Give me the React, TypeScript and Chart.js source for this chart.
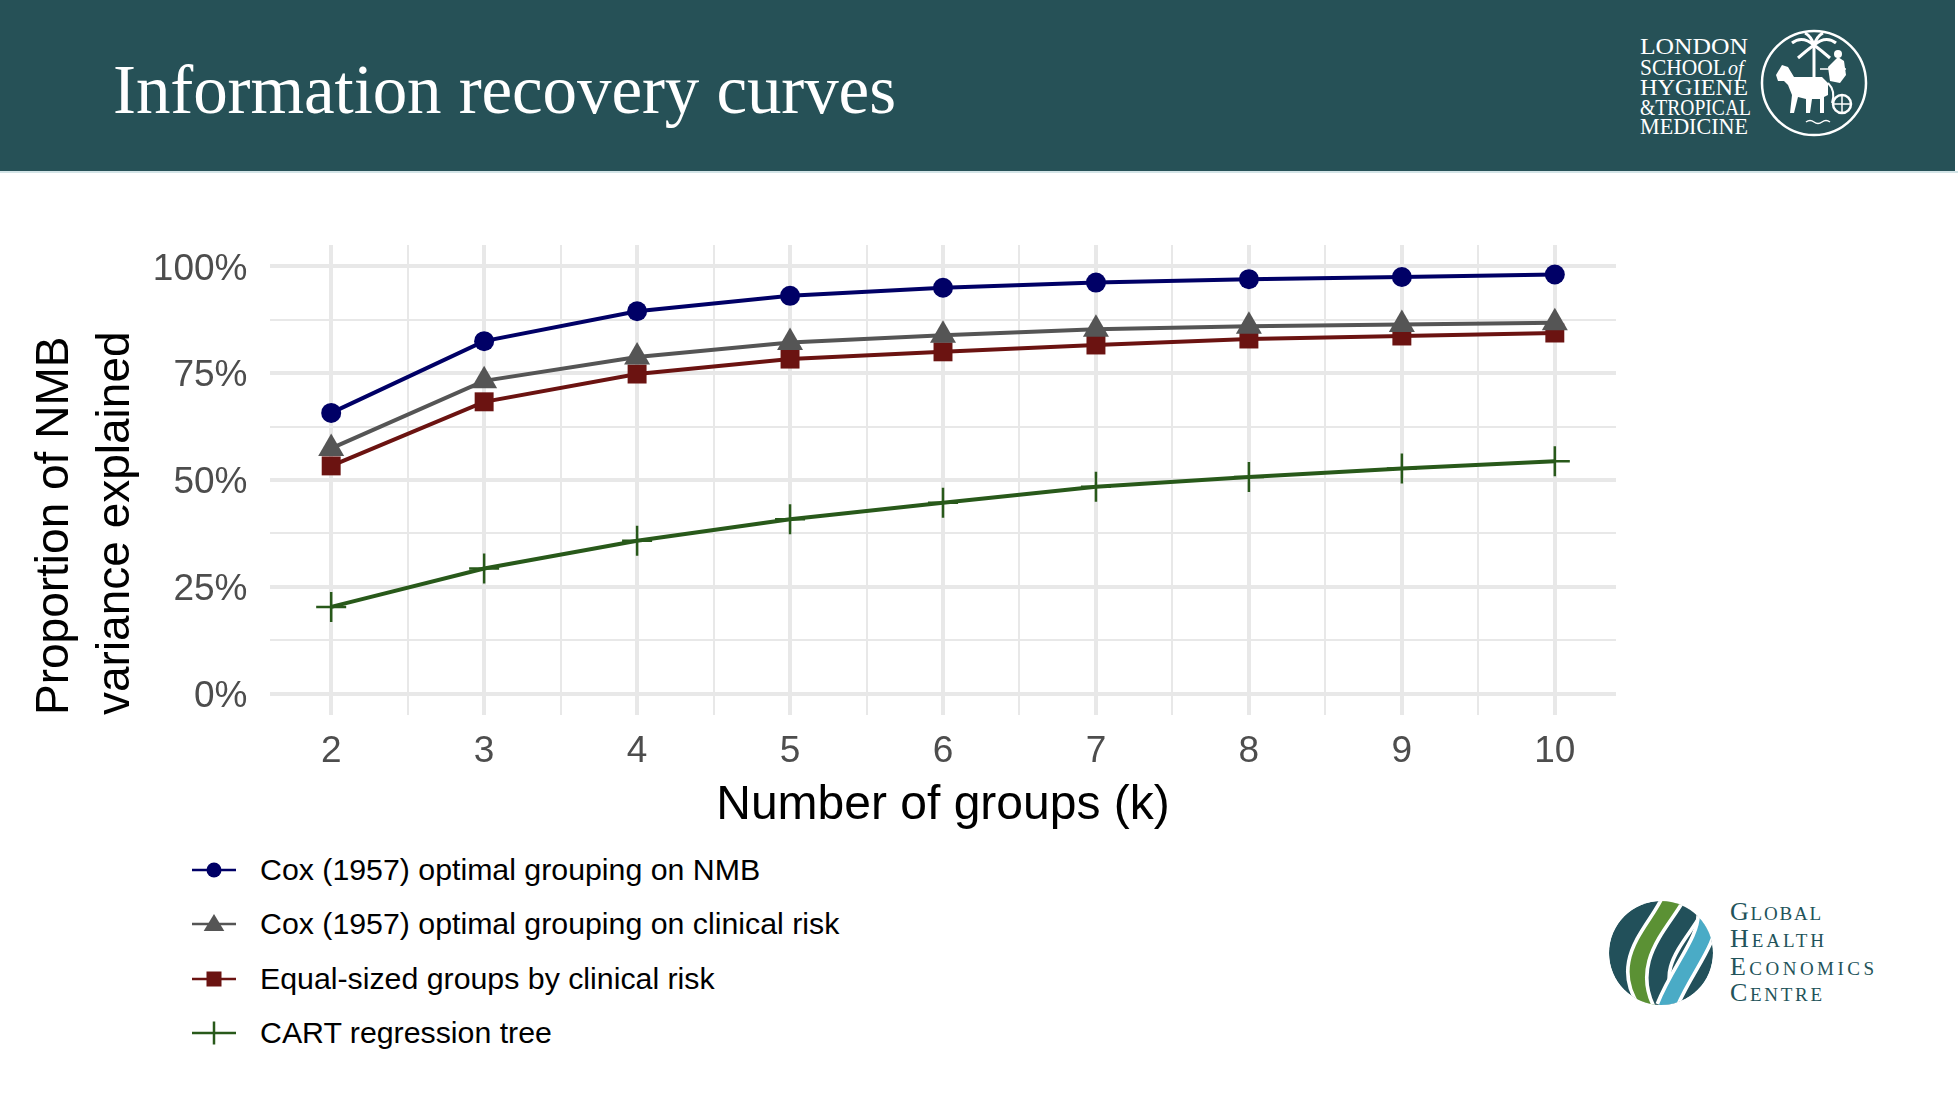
import React, { useEffect, useRef } from "react";
import { Chart, registerables } from "chart.js";

Chart.register(...registerables);

// number of groups k
const groups = [2, 3, 4, 5, 6, 7, 8, 9, 10];

// proportion of NMB variance explained
const coxNmb = [0.657, 0.825, 0.895, 0.931, 0.95, 0.962, 0.97, 0.975, 0.981];
const coxRisk = [0.574, 0.732, 0.788, 0.822, 0.839, 0.853, 0.86, 0.864, 0.868];
const equalSized = [0.533, 0.683, 0.748, 0.783, 0.8, 0.816, 0.83, 0.837, 0.844];
const cartTree = [0.203, 0.293, 0.358, 0.408, 0.447, 0.484, 0.507, 0.527, 0.544];

const seriesNames = [
  "Cox (1957) optimal grouping on NMB",
  "Cox (1957) optimal grouping on clinical risk",
  "Equal-sized groups by clinical risk",
  "CART regression tree",
];

const percentTicks = [0, 0.25, 0.5, 0.75, 1];

// styles
const seriesColours = ["#000066", "#555555", "#6b1311", "#28591a"];
const seriesShapes = ["circle", "triangle", "rect", "cross"];
const shapeRadius = [10, 15, 13.4, 15];

const SANS = "'Liberation Sans', Arial, sans-serif";
const SERIF = "'Liberation Serif', 'Times New Roman', serif";
const TEAL = "#265157";
const GRID = "#e8e8e8";

const onStep = (v: number, step: number) =>
  Math.abs(v / step - Math.round(v / step)) < 1e-6;

// grid positions: whole groups plus the half-way minor lines
const xGrid = groups.flatMap((g) => (g < 10 ? [g, g + 0.5] : [g]));
const yGrid = percentTicks.flatMap((p) => (p < 1 ? [p, p + 0.125] : [p]));

function RecoveryChart() {
  const canvasRef = useRef<HTMLCanvasElement | null>(null);

  useEffect(() => {
    if (!canvasRef.current) return;
    const allSeries = [coxNmb, coxRisk, equalSized, cartTree];

    const chart = new Chart(canvasRef.current, {
      type: "line",
      data: {
        datasets: allSeries.map((values, i) => ({
          label: seriesNames[i],
          data: groups.map((g, j) => ({ x: g, y: values[j] })),
          borderColor: seriesColours[i],
          backgroundColor: seriesColours[i],
          borderWidth: 4,
          tension: 0,
          pointStyle: seriesShapes[i] as any,
          pointRadius: shapeRadius[i],
          pointHoverRadius: shapeRadius[i],
          pointBackgroundColor: seriesColours[i],
          pointBorderColor: seriesColours[i],
          pointBorderWidth: seriesShapes[i] === "cross" ? 2.5 : 0,
        })),
      },
      options: {
        animation: false,
        responsive: true,
        maintainAspectRatio: false,
        events: [],
        layout: { padding: { top: 65, right: 84, bottom: 5, left: 0 } },
        plugins: {
          legend: { display: false },
          tooltip: { enabled: false },
        },
        scales: {
          x: {
            type: "linear",
            min: 1.6,
            max: 10.4,
            bounds: "data",
            afterBuildTicks: (axis: any) => {
              axis.ticks = xGrid.map((value) => ({ value }));
            },
            afterFit: (axis: any) => {
              axis.height = 120;
            },
            border: { display: false },
            grid: {
              drawTicks: false,
              color: GRID,
              lineWidth: (ctx: any) =>
                ctx.tick && onStep(ctx.tick.value, 1) ? 4 : 2,
            },
            ticks: {
              autoSkip: false,
              maxRotation: 0,
              padding: 15,
              color: "#4d4d4d",
              font: { family: SANS, size: 37 },
              callback: (v: any) =>
                groups.includes(Number(v)) ? String(v) : "",
            },
            title: {
              display: true,
              text: "Number of groups (k)",
              color: "#000000",
              font: { family: SANS, size: 48 },
              padding: { top: 0, bottom: 0 },
            },
          },
          y: {
            type: "linear",
            min: -0.05,
            max: 1.05,
            bounds: "data",
            afterBuildTicks: (axis: any) => {
              axis.ticks = yGrid.map((value) => ({ value }));
            },
            afterFit: (axis: any) => {
              axis.width = 270;
            },
            border: { display: false },
            grid: {
              drawTicks: false,
              color: GRID,
              lineWidth: (ctx: any) =>
                ctx.tick && onStep(ctx.tick.value, 0.25) ? 4 : 2,
            },
            ticks: {
              autoSkip: false,
              padding: 22.5,
              labelOffset: 3,
              color: "#4d4d4d",
              font: { family: SANS, size: 37 },
              callback: (v: any) =>
                percentTicks.some((p) => Math.abs(p - Number(v)) < 1e-6)
                  ? `${Math.round(Number(v) * 100)}%`
                  : "",
            },
            title: {
              display: true,
              align: "start",
              text: ["Proportion of NMB", "variance explained"],
              color: "#000000",
              font: { family: SANS, size: 46, lineHeight: 61 / 46 },
              padding: { top: 25, bottom: 0 },
            },
          },
        },
      },
    });

    return () => {
      chart.destroy();
    };
  }, []);

  return (
    <div style={{ position: "absolute", left: 0, top: 180, width: 1700, height: 660 }}>
      <canvas ref={canvasRef} />
    </div>
  );
}

function LegendKey({ index }: { index: number }) {
  const c = seriesColours[index];
  const shape = seriesShapes[index];
  return (
    <svg width={48} height={40} viewBox="0 0 48 40">
      <line x1={2} y1={20} x2={46} y2={20} stroke={c} strokeWidth={2.5} />
      {shape === "circle" && <circle cx={24} cy={20} r={7.5} fill={c} />}
      {shape === "triangle" && (
        <polygon points="24,10 34.3,27 13.7,27" fill={c} />
      )}
      {shape === "rect" && <rect x={16.5} y={12.5} width={15} height={15} fill={c} />}
      {shape === "cross" && (
        <line x1={24} y1={8.5} x2={24} y2={31.5} stroke={c} strokeWidth={2.5} />
      )}
    </svg>
  );
}

function Legend() {
  const rowY = [870, 924, 979, 1033];
  return (
    <>
      {seriesNames.map((name, i) => (
        <div
          key={name}
          style={{
            position: "absolute",
            left: 190,
            top: rowY[i] - 20,
            height: 40,
            display: "flex",
            alignItems: "center",
            whiteSpace: "nowrap",
          }}
        >
          <LegendKey index={i} />
          <span
            style={{
              marginLeft: 22,
              fontFamily: SANS,
              fontSize: 30.3,
              color: "#000",
              lineHeight: "40px",
            }}
          >
            {name}
          </span>
        </div>
      ))}
    </>
  );
}

function Header() {
  return (
    <svg
      style={{ position: "absolute", left: 0, top: 0 }}
      width={1958}
      height={176}
      viewBox="0 0 1958 176"
    >
      <rect x={0} y={0} width={1955} height={171} fill={TEAL} />
      <rect x={0} y={171} width={1958} height={2} fill="#d3e4e7" />
      <text
        x={113}
        y={113}
        fill="#ffffff"
        fontFamily={SERIF}
        fontSize={69}
        textLength={783}
      >
        Information recovery curves
      </text>

      <g fill="#ffffff" fontFamily={SERIF} fontSize={23}>
        <text x={1640} y={54} textLength={108} lengthAdjust="spacingAndGlyphs">LONDON</text>
        <text x={1640} y={74.5} textLength={86} lengthAdjust="spacingAndGlyphs">SCHOOL</text>
        <text x={1728} y={74.5} fontSize={20} fontStyle="italic">of</text>
        <text x={1640} y={95} textLength={108} lengthAdjust="spacingAndGlyphs">HYGIENE</text>
        <text x={1640} y={115} textLength={111} lengthAdjust="spacingAndGlyphs">&amp;TROPICAL</text>
        <text x={1640} y={134} textLength={108} lengthAdjust="spacingAndGlyphs">MEDICINE</text>
      </g>

      <g transform="translate(1814,83)" fill="none" stroke="#ffffff">
        <circle r={52} strokeWidth={2.5} />
        <line x1={0} y1={-38} x2={0} y2={4} strokeWidth={3} />
        <path
          d="M0 -38 Q -12 -48 -22 -40 M0 -38 Q 12 -48 22 -40 M0 -38 Q -8 -32 -16 -25 M0 -38 Q 8 -32 16 -25 M0 -38 Q -3 -47 -9 -50 M0 -38 Q 3 -47 9 -50"
          strokeWidth={3}
        />
        <path
          d="M -38 -8 L -32 -18 L -26 -16 L -20 -6 L 8 -6 L 14 0 L 14 12 L 10 14 L 10 30 L 6 30 L 6 16 L -2 16 L -4 30 L -8 30 L -8 16 L -16 14 L -20 30 L -24 30 L -22 12 L -26 2 L -30 -2 L -36 -2 Z"
          fill="#ffffff"
          stroke="none"
        />
        <path d="M14 0 Q 22 8 18 20" strokeWidth={2} />
        <path d="M 14 -16 L 24 -26 L 30 -22 L 32 -8 L 26 0 L 16 -2 Z" fill="#ffffff" stroke="none" />
        <circle cx={24} cy={-29} r={4} fill="#ffffff" stroke="none" />
        <line x1={6} y1={-14} x2={32} y2={-14} strokeWidth={1.5} />
        <circle cx={28} cy={21} r={9} strokeWidth={2.5} />
        <path d="M19 21 L37 21 M28 12 L28 30" strokeWidth={1.5} />
        <path d="M -8 39 q 4 -3 8 0 t 8 0 t 8 0" strokeWidth={1.5} />
      </g>
    </svg>
  );
}

function GhecLogo() {
  const green = "M 25 -105 C 0 -40, -90 20, -10 108";
  const middle = "M 70 -105 C 40 -40, -45 20, 15 110";
  const blue = "M 90 -75 C 90 -20, 40 30, 10 105";
  return (
    <svg
      style={{ position: "absolute", left: 1600, top: 890 }}
      width={300}
      height={130}
      viewBox="0 0 300 130"
    >
      <defs>
        <clipPath id="ghec-clip">
          <circle r={100} />
        </clipPath>
      </defs>
      <g transform="translate(61,63) scale(0.52)" clipPath="url(#ghec-clip)">
        <circle r={100} fill="#22505a" />
        <path d={green} stroke="#ffffff" strokeWidth={50} fill="none" />
        <path d={green} stroke="#5b9134" strokeWidth={36} fill="none" />
        <path d={middle} stroke="#ffffff" strokeWidth={50} fill="none" />
        <path d={middle} stroke="#22505a" strokeWidth={36} fill="none" />
        <path d={blue} stroke="#ffffff" strokeWidth={44} fill="none" />
        <path d={blue} stroke="#4aabc6" strokeWidth={30} fill="none" />
      </g>
      <g fill="#22535a" fontFamily={SERIF}>
        <text x={130} y={30} textLength={91} lengthAdjust="spacing">
          <tspan fontSize={26}>G</tspan>
          <tspan fontSize={19}>LOBAL</tspan>
        </text>
        <text x={130} y={57} textLength={94} lengthAdjust="spacing">
          <tspan fontSize={26}>H</tspan>
          <tspan fontSize={19}>EALTH</tspan>
        </text>
        <text x={130} y={85} textLength={144} lengthAdjust="spacing">
          <tspan fontSize={26}>E</tspan>
          <tspan fontSize={19}>CONOMICS</tspan>
        </text>
        <text x={130} y={111} textLength={92} lengthAdjust="spacing">
          <tspan fontSize={26}>C</tspan>
          <tspan fontSize={19}>ENTRE</tspan>
        </text>
      </g>
    </svg>
  );
}

export default function App() {
  return (
    <div
      style={{
        position: "absolute",
        left: 0,
        top: 0,
        width: 1958,
        height: 1098,
        background: "#ffffff",
        overflow: "hidden",
      }}
    >
      <Header />
      <RecoveryChart />
      <Legend />
      <GhecLogo />
    </div>
  );
}
